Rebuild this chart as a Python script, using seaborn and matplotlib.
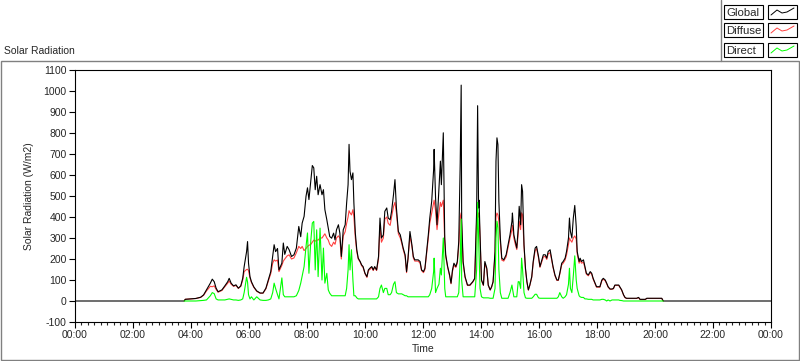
import numpy as np
import pandas as pd
import matplotlib
matplotlib.use("Agg")
import matplotlib.pyplot as plt
import seaborn as sns
from matplotlib.patches import Rectangle
from matplotlib.lines import Line2D
from matplotlib.ticker import MultipleLocator

sns.set_style("white")
plt.rcParams["font.family"] = ["Liberation Sans", "DejaVu Sans"]

# readings, W/m2 (NaN = no diffuse/direct sample)
times = ["00:00", "03:46", "03:48", "04:10", "04:20", "04:26", "04:32", "04:40", "04:44", "04:48",
         "04:52", "04:56", "05:04", "05:10", "05:16", "05:19", "05:23", "05:28", "05:33", "05:38",
         "05:43", "05:47", "05:50", "05:55", "05:57", "05:59", "06:02", "06:05", "06:10", "06:16",
         "06:23", "06:29", "06:35", "06:40", "06:45", "06:49", "06:52", "06:55", "06:59", "07:02",
         "07:08", "07:11", "07:14", "07:19", "07:23", "07:28", "07:33", "07:38", "07:43", "07:47",
         "07:50", "07:54", "07:58", "08:01", "08:04", "08:08", "08:11", "08:14", "08:17", "08:20",
         "08:23", "08:27", "08:31", "08:34", "08:37", "08:41", "08:44", "08:47", "08:51", "08:55",
         "08:58", "09:01", "09:05", "09:08", "09:11", "09:15", "09:19", "09:22", "09:25", "09:27",
         "09:29", "09:32", "09:35", "09:37", "09:40", "09:43", "09:46", "09:50", "09:53", "09:56",
         "10:00", "10:04", "10:07", "10:10", "10:14", "10:17", "10:20", "10:24", "10:28", "10:31",
         "10:34", "10:38", "10:41", "10:45", "10:48", "10:52", "10:55", "10:59", "11:02", "11:05",
         "11:09", "11:13", "11:16", "11:19", "11:23", "11:26", "11:29", "11:33", "11:37", "11:40",
         "11:43", "11:50", "11:54", "11:57", "12:01", "12:04", "12:08", "12:11", "12:14", "12:18",
         "12:22", "12:23", "12:26", "12:29", "12:33", "12:36", "12:38", "12:42", "12:45", "12:47",
         "12:51", "12:55", "12:58", "13:01", "13:04", "13:08", "13:11", "13:14", "13:17", "13:19",
         "13:20", "13:23", "13:27", "13:32", "13:37", "13:43", "13:47", "13:51", "13:53", "13:55",
         "13:56", "13:58", "14:01", "14:05", "14:08", "14:12", "14:15", "14:19", "14:22", "14:25",
         "14:29", "14:31", "14:33", "14:35", "14:37", "14:40", "14:43", "14:47", "14:52", "14:56",
         "15:00", "15:04", "15:05", "15:08", "15:11", "15:14", "15:17", "15:19", "15:22", "15:24",
         "15:26", "15:29", "15:32", "15:35", "15:38", "15:41", "15:45", "15:48", "15:52", "15:55",
         "15:59", "16:02", "16:05", "16:09", "16:13", "16:16", "16:19", "16:23", "16:26", "16:29",
         "16:33", "16:37", "16:40", "16:43", "16:47", "16:50", "16:54", "16:57", "17:01", "17:03",
         "17:05", "17:08", "17:11", "17:14", "17:17", "17:19", "17:23", "17:25", "17:28", "17:32",
         "17:35", "17:38", "17:42", "17:46", "17:49", "17:52", "17:56", "17:59", "18:06", "18:10",
         "18:13", "18:17", "18:20", "18:23", "18:27", "18:31", "18:34", "18:37", "18:45", "18:47",
         "18:51", "18:55", "18:58", "19:01", "19:22", "19:26", "19:29", "19:40", "19:43", "20:14",
         "20:17", "24:00"]

global_wm2 = [0, 0, 8, 12, 18, 29, 53, 85, 104, 92,
              61, 44, 53, 72, 92, 108, 85, 72, 77, 61,
              72, 108, 164, 235, 283, 180, 116, 92, 67, 48,
              38, 38, 61, 100, 140, 212, 268, 235, 250, 148,
              180, 276, 222, 260, 244, 212, 220, 252, 355, 306,
              371, 403, 499, 539, 483, 578, 645, 634, 530, 594,
              506, 554, 506, 530, 435, 387, 347, 307, 299, 323,
              291, 339, 363, 323, 212, 339, 363, 467, 554, 746,
              618, 578, 610, 467, 323, 244, 204, 188, 172, 164,
              132, 116, 148, 156, 164, 148, 164, 148, 212, 395,
              300, 315, 427, 443, 395, 387, 427, 507, 578, 443,
              331, 315, 284, 252, 220, 140, 204, 331, 268, 212,
              196, 196, 188, 148, 140, 156, 244, 315, 395, 475,
              626, 722, 490, 363, 538, 666, 554, 801, 300, 220,
              164, 124, 85, 148, 180, 164, 188, 284, 658, 1028,
              395, 188, 116, 76, 76, 92, 108, 427, 930, 443,
              480, 315, 100, 76, 188, 156, 76, 53, 68, 92,
              236, 666, 777, 745, 474, 300, 204, 196, 220, 268,
              315, 379, 419, 315, 283, 252, 347, 451, 363, 554,
              522, 268, 156, 92, 53, 76, 116, 188, 252, 260,
              212, 164, 188, 220, 220, 204, 236, 244, 204, 164,
              124, 100, 100, 132, 180, 188, 204, 236, 300, 395,
              331, 300, 395, 455, 355, 236, 188, 204, 188, 196,
              164, 132, 124, 140, 132, 108, 85, 68, 68, 100,
              108, 100, 85, 68, 57, 57, 60, 76, 76, 68,
              53, 29, 17, 13, 13, 17, 8, 8, 13, 13,
              0, 0]

nan = np.nan
diffuse_wm2 = [nan, 0, 8, 12, 17, 27, 48, 70, 68, 72,
               55, 42, 50, 68, 85, 95, 80, 70, 74, 60,
               70, 100, 140, 150, 151, 145, 110, 88, 65, 46,
               37, 37, 58, 95, 130, 180, 196, 190, 195, 140,
               170, 190, 200, 215, 220, 200, 205, 230, 260, 250,
               260, 240, 250, 260, 265, 270, 280, 290, 285, 290,
               290, 300, 300, 310, 320, 300, 290, 270, 260, 280,
               270, 300, 310, 300, 200, 310, 330, 370, 400, 430,
               420, 410, 435, 400, 300, 235, 200, 185, 168, 160,
               130, 112, 145, 150, 160, 145, 160, 145, 200, 360,
               280, 300, 390, 400, 370, 360, 400, 450, 470, 420,
               320, 300, 275, 245, 212, 135, 200, 310, 260, 205,
               190, 190, 180, 145, 135, 150, 235, 300, 370, 420,
               470, 480, 430, 340, 420, 470, 450, 480, 280, 210,
               160, 120, 82, 140, 170, 160, 180, 260, 400, 420,
               350, 180, 112, 74, 74, 90, 105, 380, 420, 400,
               420, 300, 98, 74, 180, 150, 74, 52, 66, 90,
               220, 400, 419, 410, 380, 280, 195, 190, 210, 255,
               300, 340, 360, 300, 270, 245, 320, 380, 340, 420,
               410, 260, 150, 90, 52, 74, 112, 180, 240, 250,
               205, 160, 182, 210, 212, 198, 225, 230, 198, 160,
               120, 98, 98, 128, 172, 180, 195, 220, 270, 300,
               290, 280, 300, 310, 295, 225, 180, 195, 180, 185,
               158, 128, 120, 135, 128, 104, 82, 66, 66, 96,
               104, 96, 82, 66, 56, 56, 58, 74, 74, 66,
               52, 28, 16, 12, 12, 16, 7, 7, 12, 12,
               0, nan]

direct_wm2 = [nan, 0, 0, 0, 2, 3, 5, 25, 40, 35,
              10, 5, 5, 5, 8, 10, 8, 5, 5, 3,
              5, 10, 40, 113, 90, 30, 10, 20, 5, 20,
              5, 3, 3, 5, 10, 40, 85, 60, 30, 10,
              110, 30, 20, 20, 20, 20, 20, 25, 50, 85,
              120, 164, 260, 324, 132, 291, 371, 379, 148, 339,
              116, 347, 100, 252, 85, 132, 53, 37, 25, 25,
              25, 25, 25, 25, 25, 25, 25, 60, 148, 268,
              148, 244, 100, 25, 25, 15, 10, 10, 10, 10,
              10, 10, 10, 10, 10, 10, 10, 10, 20, 60,
              76, 40, 60, 60, 30, 30, 40, 80, 92, 40,
              34, 34, 34, 30, 25, 25, 20, 20, 20, 20,
              20, 20, 20, 20, 20, 20, 20, 20, 30, 60,
              140, 204, 40, 60, 80, 156, 124, 300, 60, 20,
              20, 20, 20, 20, 20, 20, 20, 40, 200, 390,
              100, 20, 20, 20, 20, 20, 20, 150, 470, 300,
              200, 60, 20, 15, 15, 15, 15, 13, 13, 13,
              60, 300, 380, 350, 150, 40, 13, 13, 13, 13,
              40, 76, 60, 20, 20, 20, 92, 92, 60, 204,
              150, 40, 15, 13, 13, 13, 13, 20, 32, 32,
              15, 13, 13, 13, 13, 13, 13, 13, 13, 13,
              13, 13, 20, 40, 20, 13, 20, 30, 80, 156,
              60, 40, 120, 215, 100, 60, 25, 20, 17, 17,
              10, 10, 8, 8, 8, 5, 5, 5, 5, 8,
              8, 5, 0, 5, 0, 5, 5, 5, 5, 3,
              2, 0, 0, 0, 0, 0, 0, 0, 0, 0,
              0, nan]

series_names = ["Global", "Diffuse", "Direct"]
series_colors = {"Global": "#000000", "Diffuse": "#ff4040", "Direct": "#00ff00"}


def to_hours(s):
    h, m = s.split(":")
    return int(h) + int(m) / 60.0


hours = [to_hours(t) for t in times]
frames = []
for name, vals in zip(series_names, [global_wm2, diffuse_wm2, direct_wm2]):
    frames.append(pd.DataFrame({"hour": hours, "value": vals, "series": name}))
df = pd.concat(frames).dropna()

W, H = 800, 361
fig = plt.figure(figsize=(W / 100, H / 100), dpi=100)


def fx(px):
    return px / W


def fy(py):
    return 1 - py / H


# panel frame and legend frame
fig.patches.append(Rectangle((fx(0.5), fy(360)), fx(798.5), (360 - 61) / H, transform=fig.transFigure,
                             facecolor="none", edgecolor="#808080", linewidth=1.0, zorder=0))
fig.lines.append(Line2D([fx(721), fx(721)], [fy(0), fy(61)], transform=fig.transFigure, color="#808080", lw=1.0))

ax = fig.add_axes([fx(75), fy(322), fx(771) - fx(75), (322 - 70) / H])

# draw order: diffuse under global, direct on top
for name in ["Diffuse", "Global", "Direct"]:
    sns.lineplot(data=df[df["series"] == name], x="hour", y="value", ax=ax,
                 color=series_colors[name], linewidth=0.8, legend=False, sort=True,
                 estimator=None)

ax.set_xlim(0, 24)
ax.set_ylim(-100, 1100)
ax.set_xticks(np.arange(0, 25, 2))
ax.set_xticklabels([f"{h % 24:02d}:00" for h in range(0, 25, 2)], fontsize=7.5)
ax.xaxis.set_minor_locator(MultipleLocator(2 / 9))
ax.set_yticks(np.arange(-100, 1101, 100))
ax.set_yticklabels([str(v) for v in range(-100, 1101, 100)], fontsize=7.5)
ax.tick_params(axis="both", which="major", direction="out", length=4, width=0.8, pad=2,
               bottom=True, left=True, color="black")
ax.tick_params(axis="x", which="minor", direction="out", length=2, width=0.8, bottom=True)
for sp in ax.spines.values():
    sp.set_color("black")
    sp.set_linewidth(0.8)
ax.grid(False)
ax.set_xlabel("Time", fontsize=7.5, labelpad=3)
ax.set_ylabel("Solar Radiation (W/m2)", fontsize=7.5, labelpad=7)

fig.text(fx(4), fy(51), "Solar Radiation", fontsize=7.5, ha="left", va="center")

# legend: boxed labels with line samples
rows = [(5, 19), (23, 37), (43, 57)]
for name, (y0, y1) in zip(series_names, rows):
    fig.patches.append(Rectangle((fx(724), fy(y1)), fx(763) - fx(724), (y1 - y0) / H,
                                 transform=fig.transFigure, facecolor="white", edgecolor="black", lw=0.8))
    fig.patches.append(Rectangle((fx(768), fy(y1)), fx(797) - fx(768), (y1 - y0) / H,
                                 transform=fig.transFigure, facecolor="white", edgecolor="black", lw=0.8))
    fig.text(fx(726), fy((y0 + y1) / 2 + 0.5), name, fontsize=8.2, ha="left", va="center")
    zx = [771, 777, 782, 787, 794]
    zy = [y1 - 4, y0 + 5, y1 - 6, y0 + 7, y0 + 3]
    fig.lines.append(Line2D([fx(v) for v in zx], [fy(v) for v in zy], transform=fig.transFigure,
                            color=series_colors[name], lw=0.7))

fig.savefig("out.png", dpi=100)
